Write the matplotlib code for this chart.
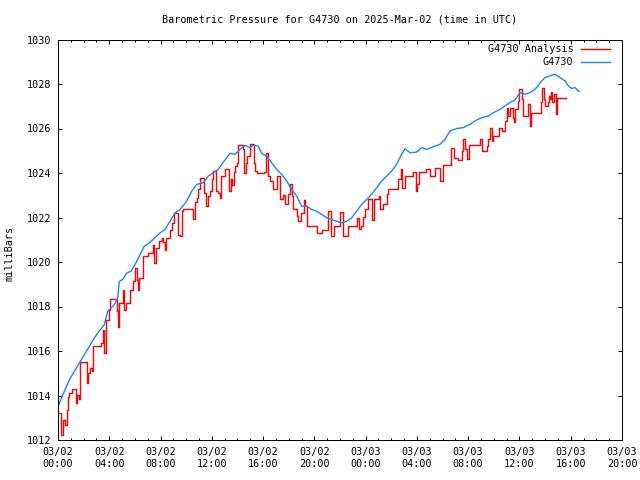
"""Barometric pressure for G4730, gnuplot-style rendering."""

import matplotlib

matplotlib.use("Agg")
import matplotlib.pyplot as plt
from matplotlib.ticker import MultipleLocator

plt.rcParams["font.family"] = ["DejaVu Sans Mono"]
FONT_SIZE = 7.3

TITLE = "Barometric Pressure for G4730 on 2025-Mar-02 (time in UTC)"
Y_LABEL = "milliBars"
X_TICK_HOURS = [0, 4, 8, 12, 16, 20, 24, 28, 32, 36, 40, 44]
X_TICK_LABELS = [
    "03/02\n00:00", "03/02\n04:00", "03/02\n08:00", "03/02\n12:00",
    "03/02\n16:00", "03/02\n20:00", "03/03\n00:00", "03/03\n04:00",
    "03/03\n08:00", "03/03\n12:00", "03/03\n16:00", "03/03\n20:00",
]
Y_TICKS = [1012, 1014, 1016, 1018, 1020, 1022, 1024, 1026, 1028, 1030]

# Hours since 2025-03-02 00:00 UTC, pressure in mb
analysis_hours = [
    0.05, 0.23, 0.41, 0.57, 0.70, 0.76, 0.88, 1.07, 1.40, 1.48, 1.66, 1.74,
    2.26, 2.37, 2.52, 2.65, 2.70, 2.76, 3.35, 3.48, 3.61, 3.74, 4.00, 4.08,
    4.58, 4.65, 4.78, 5.04, 5.17, 5.30, 5.62, 5.82, 6.03, 6.14, 6.21, 6.34,
    6.60, 6.65, 7.00, 7.39, 7.51, 7.64, 7.90, 8.10, 8.20, 8.35, 8.45, 8.74,
    8.87, 9.05, 9.40, 9.52, 9.65, 9.78, 10.55, 10.69, 10.87, 10.95, 11.08,
    11.39, 11.54, 11.72, 11.86, 11.99, 12.06, 12.32, 12.50, 12.64, 12.69,
    13.03, 13.36, 13.47, 13.60, 13.73, 13.81, 13.94, 14.07, 14.46, 14.53,
    14.66, 14.77, 14.98, 15.29, 15.37, 15.50, 16.07, 16.22, 16.40, 16.54,
    16.75, 17.06, 17.32, 17.53, 17.71, 17.97, 18.10, 18.23, 18.35, 18.62,
    18.74, 18.93, 19.19, 19.27, 19.40, 20.18, 20.57, 21.04, 21.30, 21.56,
    22.00, 22.25, 22.65, 23.35, 23.50, 23.63, 23.77, 23.95, 24.20, 24.47,
    24.65, 25.06, 25.12, 25.37, 25.64, 25.77, 26.55, 26.73, 26.80, 27.07,
    27.71, 27.93, 28.03, 28.19, 28.71, 29.02, 29.41, 29.80, 30.00, 30.63,
    30.91, 31.22, 31.49, 31.62, 31.75, 31.88, 32.08, 32.92, 33.05, 33.44,
    33.57, 33.70, 33.83, 33.96, 34.42, 34.61, 34.87, 35.00, 35.13, 35.26,
    35.47, 35.57, 35.65, 35.90, 35.98, 36.17, 36.30, 36.68, 36.82, 36.90,
    37.65, 37.73, 37.91, 37.99, 38.25, 38.32, 38.38, 38.43, 38.53, 38.69,
    38.85, 38.95, 39.60,
]
analysis_mb = [
    1013.20, 1012.23, 1012.90, 1012.68, 1013.35, 1013.95, 1014.10, 1014.28,
    1013.65, 1014.03, 1013.83, 1015.50, 1014.55, 1015.00, 1015.23, 1015.08,
    1015.68, 1016.23, 1016.36, 1016.95, 1015.90, 1017.40, 1017.86, 1018.34,
    1017.78, 1017.10, 1018.16, 1018.76, 1017.86, 1018.16, 1018.76, 1019.13,
    1019.73, 1019.20, 1018.76, 1019.28, 1019.73, 1020.26, 1020.41, 1020.78,
    1019.96, 1020.63, 1020.93, 1021.08, 1020.90, 1020.56, 1021.10, 1021.46,
    1021.76, 1022.20, 1021.20, 1021.16, 1022.28, 1022.39, 1021.94, 1022.69,
    1022.89, 1023.26, 1023.79, 1023.11, 1022.51, 1022.96, 1023.18, 1023.71,
    1024.09, 1023.18, 1023.11, 1022.89, 1023.86, 1024.19, 1023.18, 1023.71,
    1023.44, 1024.04, 1024.31, 1024.46, 1025.27, 1025.06, 1024.01, 1024.46,
    1024.76, 1025.29, 1024.46, 1024.09, 1023.98, 1024.04, 1024.91, 1023.86,
    1023.64, 1023.26, 1023.86, 1022.81, 1022.99, 1022.59, 1023.04, 1023.52,
    1022.96, 1022.36, 1022.06, 1021.83, 1022.21, 1022.78, 1022.51, 1021.61,
    1021.31, 1021.46, 1022.28, 1021.16, 1021.61, 1022.24, 1021.16, 1021.64,
    1021.99, 1021.49, 1021.64, 1022.03, 1022.39, 1022.81, 1021.91, 1022.81,
    1022.96, 1022.36, 1022.59, 1023.04, 1023.26, 1023.71, 1024.16, 1023.34,
    1023.86, 1024.04, 1023.18, 1023.49, 1024.04, 1024.19, 1023.86, 1024.24,
    1023.64, 1024.34, 1025.14, 1024.69, 1024.58, 1024.99, 1025.55, 1025.06,
    1024.61, 1025.24, 1025.51, 1024.99, 1025.21, 1025.51, 1026.04, 1025.44,
    1025.66, 1026.04, 1025.89, 1026.34, 1026.94, 1026.56, 1026.94, 1026.49,
    1026.27, 1026.86, 1027.24, 1027.77, 1027.32, 1026.56, 1027.09, 1026.11,
    1026.71, 1027.19, 1027.80, 1027.32, 1027.01, 1027.19, 1027.44, 1027.32,
    1027.65, 1027.17, 1027.54, 1026.64, 1027.35, 1027.35,
]

station_hours = [
    0.05, 0.49, 0.88, 1.27, 1.66, 2.05, 2.44, 2.83, 3.10, 3.35, 3.61, 3.88,
    4.13, 4.39, 4.66, 4.78, 5.04, 5.36, 5.69, 6.08, 6.47, 6.73, 7.12, 7.39,
    7.96, 8.35, 8.74, 9.13, 9.52, 10.04, 10.43, 10.82, 11.34, 11.72, 12.11,
    12.50, 12.77, 13.16, 13.42, 13.81, 14.20, 14.59, 14.98, 15.23, 15.62,
    15.89, 16.28, 16.67, 17.06, 17.45, 17.84, 18.23, 18.62, 19.01, 19.40,
    19.79, 20.18, 20.57, 20.96, 21.35, 21.74, 22.13, 22.52, 22.91, 23.30,
    23.69, 24.08, 24.47, 24.86, 25.25, 25.64, 26.03, 26.42, 26.80, 27.07,
    27.46, 27.98, 28.37, 28.76, 29.27, 29.80, 30.19, 30.58, 31.10, 31.62,
    32.14, 32.53, 33.05, 33.57, 33.96, 34.48, 34.87, 35.26, 35.65, 36.04,
    36.43, 36.82, 37.21, 37.47, 37.60, 37.99, 38.38, 38.77, 39.16, 39.55,
    39.80, 40.07, 40.33, 40.66,
]
station_mb = [
    1013.58, 1014.18, 1014.70, 1015.08, 1015.45, 1015.83, 1016.20, 1016.58,
    1016.81, 1016.99, 1017.18, 1017.78, 1017.93, 1018.08, 1018.38, 1019.13,
    1019.21, 1019.51, 1019.58, 1019.96, 1020.41, 1020.71, 1020.86, 1021.00,
    1021.31, 1021.46, 1021.83, 1022.21, 1022.36, 1022.74, 1023.18, 1023.49,
    1023.56, 1023.86, 1024.01, 1024.16, 1024.39, 1024.69, 1024.88, 1024.84,
    1025.06, 1025.24, 1025.14, 1025.24, 1025.21, 1024.88, 1024.76, 1024.46,
    1024.16, 1023.94, 1023.64, 1023.26, 1022.96, 1022.51, 1022.51, 1022.36,
    1022.28, 1022.14, 1021.99, 1021.91, 1021.83, 1021.76, 1021.83, 1021.99,
    1022.28, 1022.59, 1022.81, 1023.04, 1023.34, 1023.64, 1023.86, 1024.09,
    1024.39, 1024.84, 1025.09, 1024.91, 1024.94, 1025.14, 1025.06, 1025.18,
    1025.29, 1025.51, 1025.89, 1026.00, 1026.04, 1026.19, 1026.34, 1026.49,
    1026.56, 1026.71, 1026.86, 1027.01, 1027.17, 1027.28, 1027.61, 1027.54,
    1027.61, 1027.77, 1027.92, 1028.05, 1028.29, 1028.37, 1028.44, 1028.29,
    1028.14, 1027.92, 1027.80, 1027.84, 1027.66,
]

fig = plt.figure(figsize=(6.4, 4.8), dpi=100)
ax = fig.add_axes([58 / 640, 40 / 480, 564 / 640, 400.5 / 480])

ax.plot(analysis_hours, analysis_mb, color="#ff0000", linewidth=1.0,
        drawstyle="steps-post", label="G4730 Analysis")
ax.plot(station_hours, station_mb, color="#1a86f5", linewidth=1.0,
        label="G4730")

ax.set_xlim(0, 44)
ax.set_ylim(1012, 1030)
ax.set_xticks(X_TICK_HOURS)
ax.set_xticklabels(X_TICK_LABELS, fontsize=FONT_SIZE, linespacing=1.25)
ax.xaxis.set_minor_locator(MultipleLocator(1))
ax.set_yticks(Y_TICKS)
ax.set_yticklabels([str(v) for v in Y_TICKS], fontsize=FONT_SIZE)
ax.tick_params(which="both", direction="in", top=True, right=True,
               width=0.72, color="black")
ax.tick_params(which="major", length=3.0)
ax.tick_params(axis="x", which="major", pad=5)
ax.tick_params(axis="y", which="major", pad=5)
ax.tick_params(which="minor", length=1.6)
for spine in ax.spines.values():
    spine.set_linewidth(0.72)

fig.text(340 / 640, 1 - 20 / 480, TITLE, ha="center", va="center",
         fontsize=FONT_SIZE)
fig.text(10 / 640, 1 - 253 / 480, Y_LABEL, ha="center", va="center",
         rotation=90, fontsize=FONT_SIZE)

ax.legend(loc="upper right", bbox_to_anchor=(552 / 564, 0.988),
          frameon=False, markerfirst=False, fontsize=FONT_SIZE,
          handlelength=2.9, handletextpad=0.7, labelspacing=0.3,
          borderpad=0, borderaxespad=0)

fig.savefig("out.png", dpi=100)
